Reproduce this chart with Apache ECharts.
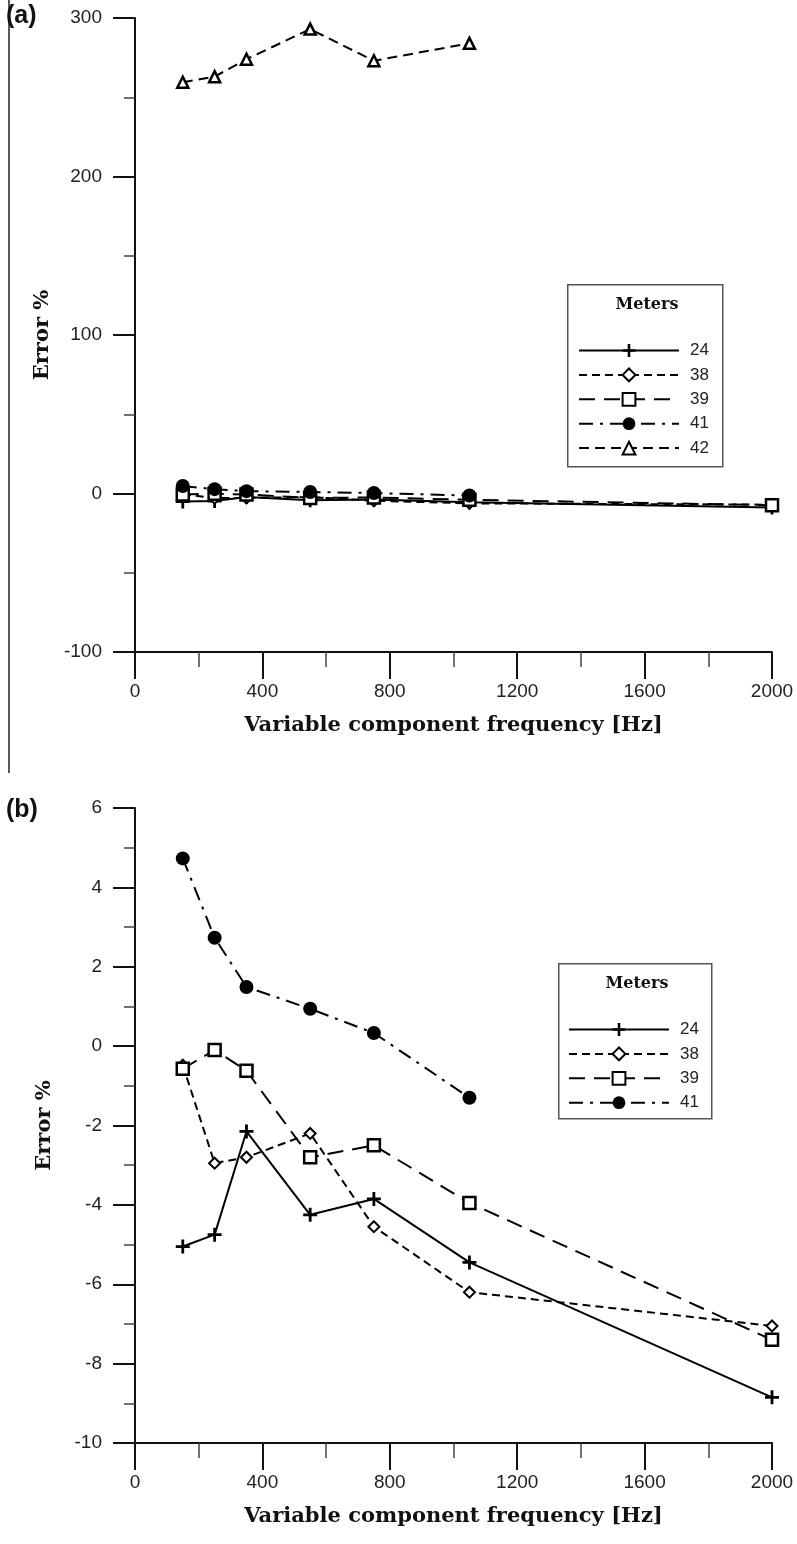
<!DOCTYPE html>
<html>
<head>
<meta charset="utf-8">
<script src="https://cdn.jsdelivr.net/npm/echarts@6/dist/echarts.min.js"></script>
<style>
  html, body { margin: 0; padding: 0; background: #fff; }
  #chart { width: 797px; height: 1544px; }
</style>
</head>
<body>
<div id="chart"></div>
<script>
// Frequencies of the variable component [Hz]
const freqs = [150, 250, 350, 550, 750, 1050, 2000];

// Error % per meter
const meter24 = [-5.05, -4.75, -2.15, -4.25, -3.85, -5.45, -8.85];
const meter38 = [-0.48, -2.95, -2.8, -2.2, -4.55, -6.2, -7.05];
const meter39 = [-0.57, -0.1, -0.62, -2.8, -2.5, -3.95, -7.4];
const meter41 = [4.73, 2.73, 1.49, 0.94, 0.33, -1.3];
const meter42 = [259.5, 263, 274, 293, 273, 284];

const xTicks = { min: 0, max: 2000, interval: 400 };
const yTicksA = { min: -100, max: 300, interval: 100 };
const yTicksB = { min: -10, max: 6, interval: 2 };

const pairs = (xs, ys) => ys.map((v, i) => [xs[i], v]);

const PLUS = 'path://M4,0H6V4H10V6H6V10H4V6H0V4H4Z';

const meterStyles = {
  '24': { symbol: PLUS, symbolSize: 14, line: 'solid', fill: '#000', border: 0 },
  '38': { symbol: 'diamond', symbolSize: 11, line: [8, 5], fill: '#fff', border: 2 },
  '39': { symbol: 'rect', symbolSize: 12, line: [16, 9], fill: '#fff', border: 2.5 },
  '41': { symbol: 'circle', symbolSize: 14, line: [14, 7, 3, 7], fill: '#000', border: 0 },
  '42': { symbol: 'triangle', symbolSize: 11, line: [10, 6], fill: '#fff', border: 2.5 }
};

function makeSeries(name, values, gridIdx) {
  const st = meterStyles[name];
  return {
    name: name,
    type: 'line',
    xAxisIndex: gridIdx,
    yAxisIndex: gridIdx,
    data: pairs(freqs, values),
    symbol: st.symbol,
    symbolSize: st.symbolSize,
    showAllSymbol: true,
    animation: false,
    lineStyle: { color: '#000', width: 2, type: st.line },
    itemStyle: { color: st.fill, borderColor: '#000', borderWidth: st.border }
  };
}

const fontSans = '"Liberation Sans", Arial, sans-serif';
const fontSerif = '"DejaVu Serif", serif';
const plainNumber = v => String(v);

function xAxis(gridIdx) {
  return {
    type: 'value', gridIndex: gridIdx,
    min: xTicks.min, max: xTicks.max, interval: xTicks.interval,
    name: 'Variable component frequency [Hz]',
    nameLocation: 'middle', nameGap: 63,
    nameTextStyle: { fontFamily: fontSerif, fontWeight: 'bold', fontSize: 21, color: '#111' },
    axisLine: { show: true, onZero: false, lineStyle: { color: '#111', width: 2 } },
    axisTick: { show: true, length: 27, lineStyle: { color: '#111', width: 2 } },
    minorTick: { show: true, splitNumber: 2, length: 15, lineStyle: { color: '#444', width: 1.5 } },
    axisLabel: { margin: 30, fontFamily: fontSans, fontSize: 19, color: '#222', formatter: plainNumber },
    splitLine: { show: false }
  };
}

function yAxis(gridIdx, t) {
  return {
    type: 'value', gridIndex: gridIdx,
    min: t.min, max: t.max, interval: t.interval,
    name: 'Error %',
    nameLocation: 'middle', nameGap: 80, nameRotate: 90,
    nameTextStyle: { fontFamily: fontSerif, fontWeight: 'bold', fontSize: 21, color: '#111' },
    axisLine: { show: true, onZero: false, lineStyle: { color: '#111', width: 2 } },
    axisTick: { show: true, length: 22, lineStyle: { color: '#111', width: 2 } },
    minorTick: { show: true, splitNumber: 2, length: 11, lineStyle: { color: '#444', width: 1.5 } },
    axisLabel: { margin: 33, fontFamily: fontSans, fontSize: 19, color: '#222', formatter: plainNumber },
    splitLine: { show: false }
  };
}

function legend(names, left, top) {
  return {
    data: names,
    orient: 'vertical',
    left: left, top: top,
    itemWidth: 100, itemHeight: 16, itemGap: 7.4,
    padding: 0,
    selectedMode: false,
    textStyle: { fontFamily: fontSans, fontSize: 17, color: '#222', padding: [0, 0, 0, 6] }
  };
}

function legendBox(x, y, w, h) {
  return [
    { type: 'rect', left: x, top: y, shape: { width: w, height: h },
      style: { fill: 'transparent', stroke: '#555', lineWidth: 1.5 }, z: 50 },
    { type: 'text', left: x + w / 2 - 29, top: y + 13,
      style: { text: 'Meters', font: 'bold 16px "DejaVu Serif", serif', fill: '#111' }, z: 50 }
  ];
}

const chart = echarts.init(document.getElementById('chart'), null, { renderer: 'canvas' });

chart.setOption({
  backgroundColor: '#fff',
  animation: false,
  grid: [
    { left: 135, top: 18, width: 637, height: 634, outerBoundsMode: 'none' },
    { left: 135, top: 808, width: 637, height: 635, outerBoundsMode: 'none' }
  ],
  xAxis: [xAxis(0), xAxis(1)],
  yAxis: [yAxis(0, yTicksA), yAxis(1, yTicksB)],
  legend: [
    legend(['24', '38', '39', '41', '42'], 578, 342),
    legend(['24', '38', '39', '41'], 568, 1021)
  ],
  graphic: [
    { type: 'line', shape: { x1: 9, y1: 0, x2: 9, y2: 773 },
      style: { stroke: '#222', lineWidth: 1.5 } },
    { type: 'text', left: 6, top: 4,
      style: { text: '(a)', font: 'bold 25px "Liberation Sans", Arial, sans-serif', fill: '#111' } },
    { type: 'text', left: 6, top: 798,
      style: { text: '(b)', font: 'bold 25px "Liberation Sans", Arial, sans-serif', fill: '#111' } },
    ...legendBox(567, 284, 155, 182),
    ...legendBox(558, 963, 153, 155)
  ],
  series: [
    makeSeries('24', meter24, 0),
    makeSeries('38', meter38, 0),
    makeSeries('39', meter39, 0),
    makeSeries('41', meter41, 0),
    makeSeries('42', meter42, 0),
    makeSeries('24', meter24, 1),
    makeSeries('38', meter38, 1),
    makeSeries('39', meter39, 1),
    makeSeries('41', meter41, 1)
  ]
});
</script>
</body>
</html>
